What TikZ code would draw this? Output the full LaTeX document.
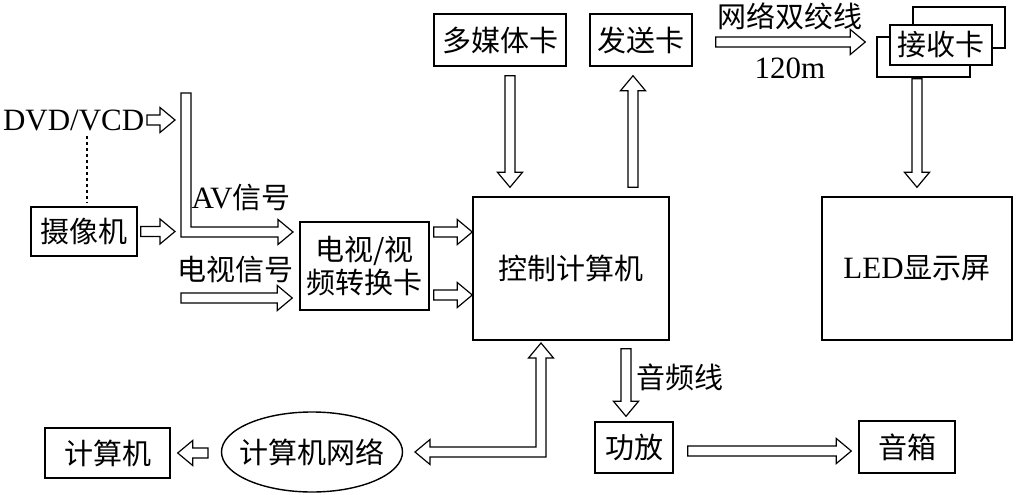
\documentclass[tikz,border=0pt]{standalone}
\usepackage{fontspec}
\setmainfont{Liberation Serif}
\newfontfamily\cjk{Noto Sans CJK SC}
\usetikzlibrary{calc,shapes.geometric}
\newcommand\lat[1]{{\rmfamily\fontsize{31}{35}\selectfont #1}}

\begin{document}
\begin{tikzpicture}[x=1pt, y=-1pt,
    font=\cjk\fontsize{29}{33}\selectfont, line width=1.4pt,
    box/.style={draw, inner sep=0pt, align=center},
    lbl/.style={inner sep=0pt, align=center},
    dotline/.style={dash pattern=on 3pt off 3pt},
    hollow/.style={draw, line width=1.2pt, line join=miter, to path={
        ($(\tikztostart)!5pt!90:(\tikztotarget)$)
        -- ($(\tikztotarget)!15pt!(\tikztostart)!5pt!90:(\tikztotarget)$)
        -- ($(\tikztotarget)!15pt!(\tikztostart)!12.5pt!90:(\tikztotarget)$)
        -- (\tikztotarget)
        -- ($(\tikztotarget)!15pt!(\tikztostart)!12.5pt!-90:(\tikztotarget)$)
        -- ($(\tikztotarget)!15pt!(\tikztostart)!5pt!-90:(\tikztotarget)$)
        -- ($(\tikztostart)!5pt!-90:(\tikztotarget)$) -- cycle}}
]
\useasboundingbox (0,0) rectangle (1020,495);

\node[box, minimum width=132pt, minimum height=52pt] (mm) at (500,40) {多媒体卡};
\node[box, minimum width=102pt, minimum height=52pt] (send) at (641,40) {发送卡};
\node[box, fill=white, minimum width=92pt, minimum height=41pt] (recvb) at (959,27.5) {};
\node[box, fill=white, minimum width=93pt, minimum height=40pt] (recvf) at (923.5,57) {};
\node[box, fill=white, minimum width=102pt, minimum height=40pt] (recv) at (941,45) {接收卡};
\node[box, minimum width=196pt, minimum height=143pt] (ctrl) at (571,268.5) {控制计算机};
\node[box, minimum width=190pt, minimum height=143pt] (led) at (917,268.5) {\lat{LED}显示屏};
\node[lbl, anchor=east] (dvd) at (145,120) {\lat{DVD/VCD}};
\node[box, minimum width=106pt, minimum height=49pt] (cam) at (84,231.5) {摄像机};
\node[box, minimum width=129pt, minimum height=88pt] (conv) at (364.5,266) {电视/视\\频转换卡};
\node[lbl] (net) at (312,452) {计算机网络};
\node[box, minimum width=125pt, minimum height=50pt] (pc) at (107.5,453) {计算机};
\node[box, minimum width=78pt, minimum height=51pt] (amp) at (634,447.5) {功放};
\node[box, minimum width=96pt, minimum height=52pt] (spk) at (907,447) {音箱};

\node[lbl] (twlbl) at (790,16) {网络双绞线};
\node[lbl] (len) at (790,68) {\lat{120m}};
\node[lbl] (avlbl) at (241,198) {\lat{AV}信号};
\node[lbl] (tvlbl) at (235,270) {电视信号};
\node[lbl] (audlbl) at (680,377) {音频线};

\draw (net.center) ellipse [x radius=90.5pt, y radius=40pt];
\draw[dotline] ($(cam.north |- dvd.south)+(3,5)$) -- ($(cam.north)+(3,-4)$);

\coordinate (dvdin) at (175,120);
\coordinate (camin) at (175,231.5);
\coordinate (tvin) at (181,298);

\draw[hollow] ([shift={(10,9)}]mm.south) to ([shift={(-61,-9)}]ctrl.north);
\draw[hollow] ([shift={(62,-9)}]ctrl.north) to ([shift={(-8,9)}]send.south);
\draw[hollow] ([shift={(23,2)}]send.east) to ([shift={(-11,-15)}]recvf.west);
\draw[hollow] ([shift={(-6.5,1)}]recvf.south) to ([yshift=9pt]led.north);
\draw[hollow] ([xshift=2pt]dvd.east) to (dvdin);
\draw[hollow] ([xshift=3pt]cam.east) to (camin);
\draw[hollow] (tvin) to ([shift={(-7,32)}]conv.west);
\draw[hollow] ([shift={(4,-34)}]conv.east) to ([shift={(0,-36.5)}]ctrl.west);
\draw[hollow] ([shift={(4,29)}]conv.east) to ([shift={(0,26.5)}]ctrl.west);
\draw[hollow] ([shift={(55,8)}]ctrl.south) to ([shift={(-8,-5)}]amp.north);
\draw[hollow] ([shift={(14,3.5)}]amp.east) to ([shift={(-7,4)}]spk.west);
\draw[hollow] ([shift={(-104,1)}]net.center) to ([xshift=7pt]pc.east);

\draw[line width=1.2pt] (181,93) -- (191,93) -- (191,227) -- (278,227) -- (278,219.5)
    -- (293,232) -- (278,244.5) -- (278,237) -- (181,237) -- cycle;
\draw[line width=1.2pt] (541,343) -- (553.5,358) -- (546,358) -- (546,457) -- (430,457)
    -- (430,464.5) -- (415,452) -- (430,439.5) -- (430,447) -- (536,447) -- (536,358)
    -- (528.5,358) -- cycle;
\end{tikzpicture}
\end{document}
